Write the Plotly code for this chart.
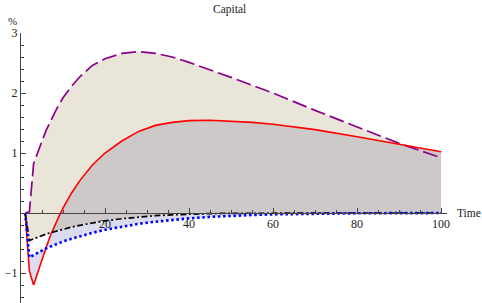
import numpy as np
import plotly.graph_objects as go

# ---- data ----
t = [1, 2, 3, 4, 5, 6, 7, 8, 9, 10, 12, 14, 17, 20, 24, 28, 32, 36, 40, 45, 50, 55, 60, 70, 80, 90, 100]
purple = [0, 0.02, 0.82, 1.02, 1.2, 1.38, 1.54, 1.67, 1.8, 1.92, 2.11, 2.27, 2.46, 2.57, 2.66, 2.69, 2.66,
          2.6, 2.51, 2.39, 2.26, 2.13, 2.0, 1.71, 1.43, 1.16, 0.92]
red = [0, -0.97, -1.2, -0.98, -0.77, -0.57, -0.38, -0.21, -0.06, 0.08, 0.33, 0.54, 0.8, 1.0, 1.2, 1.36, 1.46,
       1.51, 1.54, 1.545, 1.53, 1.51, 1.48, 1.39, 1.27, 1.14, 1.02]
black = [0, -0.46, -0.43, -0.4, -0.375, -0.35, -0.33, -0.31, -0.29, -0.27, -0.235, -0.205, -0.165, -0.13,
         -0.095, -0.065, -0.045, -0.03, -0.018, -0.01, -0.005, -0.003, -0.002, -0.001, 0, 0, 0]
blue = [0, -0.74, -0.7, -0.66, -0.625, -0.59, -0.56, -0.53, -0.5, -0.475, -0.43, -0.385, -0.33, -0.28,
        -0.225, -0.18, -0.145, -0.115, -0.09, -0.065, -0.046, -0.033, -0.023, -0.011, -0.005, -0.002, -0.001]

x_ticks = [20, 40, 60, 80, 100]
y_ticks = [-1, 1, 2, 3]
y_ticktext = ["\u22121", "1", "2", "3"]

FONT = "Liberation Serif"
BEIGE = "#e9e5d9"
GRAY = "#cdc9c8"
LAV = "#dcdcf0"

T = np.array(t, float)
P, R, K, B = (np.array(a, float) for a in (purple, red, black, blue))

fig = go.Figure()

def band(upper, lower, color):
    fig.add_trace(go.Scatter(
        x=np.concatenate([T, T[::-1]]), y=np.concatenate([upper, lower[::-1]]),
        fill="toself", fillcolor=color, mode="lines", line=dict(width=0),
        hoverinfo="skip", showlegend=False))

band(P, R, BEIGE)
band(np.maximum(R, K), K, GRAY)
band(K, B, LAV)
band(B, np.minimum(R, B), LAV)
band(K, np.maximum(B, np.minimum(R, K)), "white")

fig.add_trace(go.Scatter(x=t, y=purple, mode="lines",
                         line=dict(color="#8b008b", width=1.7, dash="15px,5px")))
fig.add_trace(go.Scatter(x=t, y=red, mode="lines", line=dict(color="#ff0000", width=1.6)))
fig.add_trace(go.Scatter(x=t, y=black, mode="lines",
                         line=dict(color="#000000", width=1.7, dash="6px,2.5px,2px,2.5px")))
fig.add_trace(go.Scatter(x=t, y=blue, mode="lines",
                         line=dict(color="#0000ff", width=2.6, dash="2.5px,2.7px")))

AX = "#444444"
ymin, ymax = -1.5, 3.0
fig.update_layout(
    width=482, height=303,
    margin=dict(l=21, r=35, t=33, b=0, autoexpand=False),
    plot_bgcolor="white", paper_bgcolor="white",
    showlegend=False,
    font=dict(family=FONT, size=12, color="#222"),
    xaxis=dict(range=[0, 101.4], anchor="free", position=(0 - ymin) / (ymax - ymin), automargin=False,
               showline=True, linecolor=AX, linewidth=1, showgrid=False, zeroline=False,
               ticks="inside", ticklen=5, tickcolor=AX, tickmode="array", tickvals=x_ticks,
               minor=dict(tickmode="linear", tick0=0, dtick=5, ticks="inside", ticklen=3, tickcolor=AX),
               tickfont=dict(family=FONT, size=12)),
    yaxis=dict(range=[ymin, ymax], showline=True, linecolor=AX, linewidth=1, showgrid=False,
               automargin=False, zeroline=False, ticks="inside", ticklen=5, tickcolor=AX,
               tickmode="array", tickvals=y_ticks, ticktext=y_ticktext,
               minor=dict(tickmode="linear", tick0=0, dtick=0.2, ticks="inside", ticklen=3, tickcolor=AX),
               tickfont=dict(family=FONT, size=12)),
    annotations=[
        dict(text="Capital", xref="paper", yref="paper", x=0.49, y=1.0, yshift=24, showarrow=False,
             xanchor="center", yanchor="middle", font=dict(family=FONT, size=11.5)),
        dict(text="%", xref="paper", yref="paper", x=0, y=1.0, xshift=-9, yshift=12, showarrow=False,
             xanchor="center", yanchor="middle", font=dict(family=FONT, size=11)),
        dict(text="Time", xref="paper", yref="y", x=1.0, y=0, xshift=8, showarrow=False,
             xanchor="left", yanchor="middle", font=dict(family=FONT, size=11.5)),
    ],
)

fig.write_html("out.html", config={"displayModeBar": False},
               post_script="document.body.style.margin='0px';document.body.style.overflow='hidden';")
